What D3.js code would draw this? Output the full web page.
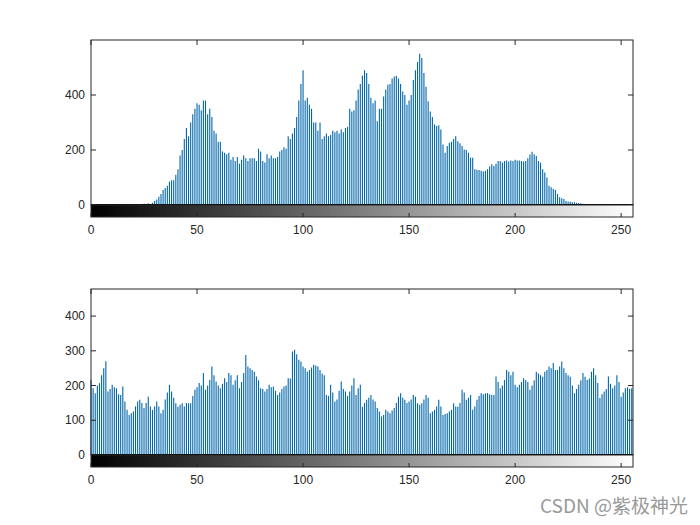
<!DOCTYPE html>
<html>
<head>
<meta charset="utf-8">
<script src="https://cdn.jsdelivr.net/npm/d3@7"></script>
<style>
  body { margin: 0; background: #fff; }
  text { font-family: "Liberation Sans", Arial, sans-serif; }
</style>
</head>
<body>
<div id="chart"></div>
<script>
// histogram counts for gray levels 0..255
var histTop = [
  0,0,0,0,0,0,0,0,0,0, 0,0,0,0,0,0,0,0,0,0,
  2,0,3,4,2,5,3,6,4,8,
  15,20,30,40,55,62,70,85,90,90,
  110,130,180,200,240,280,250,300,330,350,
  370,365,345,380,380,330,350,320,270,260,
  230,230,195,190,185,190,165,175,160,175,
  150,165,180,170,160,170,170,170,160,205,
  195,160,155,185,170,180,170,170,175,195,
  200,210,205,250,240,260,280,320,380,440,
  490,380,390,365,350,300,300,270,300,240,
  250,260,250,255,270,265,270,260,275,265,
  280,285,350,340,345,380,420,440,470,490,
  480,440,390,370,380,305,350,350,395,420,
  437,440,460,467,470,460,440,413,400,365,
  380,400,455,490,520,550,535,480,430,377,
  340,320,293,287,290,275,220,190,215,226,
  230,240,250,232,225,215,202,200,190,172,
  172,130,128,127,125,122,125,130,140,148,
  142,150,160,160,155,160,162,158,162,160,
  165,162,162,160,158,160,170,184,194,185,
  178,160,154,130,118,100,70,65,58,55,
  40,28,25,22,15,13,12,10,10,8,
  7,6,5,3,2,0,0,0,0,0,
  0,0,0,0,0,0,0,0,0,0,0,0,0,0,0,0
];
var histBottom = [
  215,192,178,200,207,230,250,270,183,190,
  202,195,192,175,173,197,154,130,115,120,
  125,140,154,159,150,135,150,168,140,130,
  140,154,140,120,130,160,180,202,183,165,
  149,139,145,149,140,150,149,149,170,188,
  195,207,200,236,188,200,216,255,230,212,
  200,192,205,221,210,236,230,202,215,230,
  192,210,236,288,255,250,245,240,226,215,
  192,190,183,190,202,195,197,185,173,180,
  190,197,200,221,220,298,303,290,274,269,
  255,250,240,245,252,260,258,255,245,235,
  230,173,170,202,180,154,160,185,212,190,
  183,170,183,200,221,173,192,202,139,150,
  159,165,173,160,154,135,125,111,115,130,
  125,120,128,135,150,168,178,165,159,150,
  154,160,173,168,149,145,149,160,173,165,
  120,125,130,140,159,140,115,118,120,125,
  130,149,140,139,150,188,180,159,165,173,
  130,140,159,170,178,175,178,178,175,173,
  173,226,210,192,200,216,245,240,230,240,
  202,195,202,210,221,216,210,188,200,215,
  240,235,230,225,240,245,255,250,265,245,
  245,255,269,250,236,230,225,200,178,190,
  202,215,236,225,216,220,240,250,230,207,
  164,175,183,190,226,205,192,200,230,210,
  168,180,192,195,190,192
];
var xTicks = [0, 50, 100, 150, 200, 250];
var yTicksTop = [0, 200, 400];
var yTicksBottom = [0, 100, 200, 300, 400];

var width = 700, height = 525;
var svg = d3.select("#chart").append("svg")
  .attr("width", width)
  .attr("height", height);

var grad = svg.append("defs").append("linearGradient")
  .attr("id", "gray");
grad.append("stop").attr("offset", "0%").attr("stop-color", "#000");
grad.append("stop").attr("offset", "100%").attr("stop-color", "#fff");

var x = d3.scaleLinear().domain([0, 255.6]).range([91, 633]);

function drawPanel(data, yMax, yTicks, top, base) {
  var y = d3.scaleLinear().domain([0, yMax]).range([base, top]);
  var g = svg.append("g");

  // stems
  g.selectAll("line.stem")
    .data(data)
    .enter()
    .append("line")
    .attr("class", "stem")
    .attr("x1", (d, i) => x(i)).attr("x2", (d, i) => x(i))
    .attr("y1", y(0)).attr("y2", d => y(d))
    .attr("stroke", "#0066aa")
    .attr("stroke-width", 1.1);

  // box
  g.append("rect")
    .attr("x", 91).attr("y", top)
    .attr("width", 542).attr("height", base - top)
    .attr("fill", "none").attr("stroke", "#262626").attr("stroke-width", 1);
  g.append("line")
    .attr("x1", 91).attr("x2", 633).attr("y1", base).attr("y2", base)
    .attr("stroke", "#000").attr("stroke-width", 2);

  // y ticks
  yTicks.forEach(function(t) {
    g.append("line").attr("x1", 91).attr("x2", 96)
      .attr("y1", y(t)).attr("y2", y(t)).attr("stroke", "#262626");
    g.append("line").attr("x1", 628).attr("x2", 633)
      .attr("y1", y(t)).attr("y2", y(t)).attr("stroke", "#262626");
    g.append("text").attr("x", 85).attr("y", y(t) + 4)
      .attr("text-anchor", "end").attr("font-size", 12).attr("fill", "#262626")
      .text(t);
  });
  // top x ticks
  xTicks.forEach(function(t) {
    g.append("line").attr("x1", x(t)).attr("x2", x(t))
      .attr("y1", top).attr("y2", top + 5).attr("stroke", "#262626");
  });

  // colorbar
  var cb = base + 12;
  g.append("rect")
    .attr("x", 91).attr("y", base).attr("width", 542).attr("height", 12)
    .attr("fill", "url(#gray)").attr("stroke", "#262626");
  xTicks.forEach(function(t) {
    g.append("line").attr("x1", x(t)).attr("x2", x(t))
      .attr("y1", cb - 4).attr("y2", cb).attr("stroke", "#262626");
    g.append("text").attr("x", x(t)).attr("y", cb + 17)
      .attr("text-anchor", "middle").attr("font-size", 12).attr("fill", "#262626")
      .text(t);
  });
}

drawPanel(histTop, 600, yTicksTop, 40, 205);
drawPanel(histBottom, 478, yTicksBottom, 289, 455);

svg.append("text")
  .attr("x", 688).attr("y", 513)
  .attr("text-anchor", "end")
  .attr("font-size", 19)
  .attr("fill", "#999")
  .style("font-family", "'Noto Sans CJK SC', sans-serif")
  .text("CSDN @紫极神光");
</script>
</body>
</html>
